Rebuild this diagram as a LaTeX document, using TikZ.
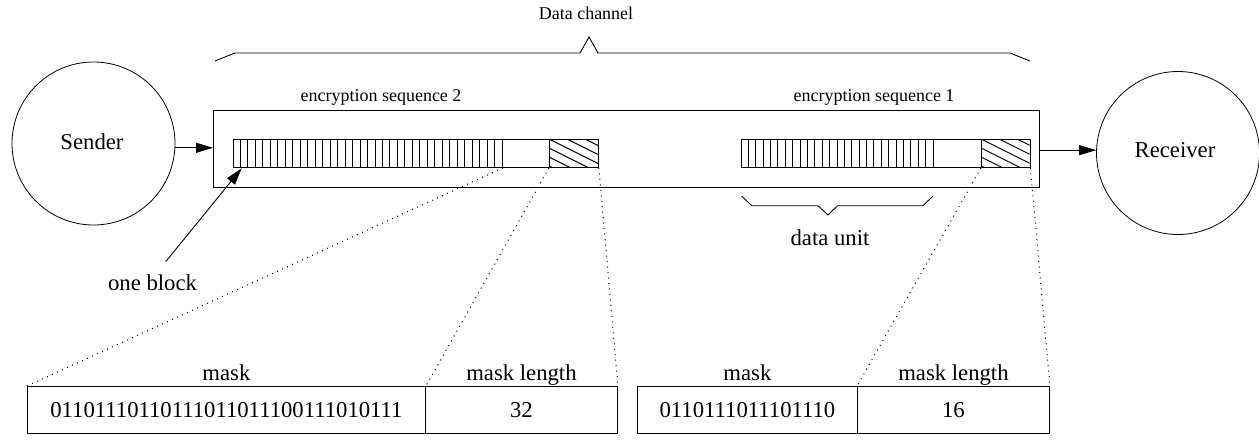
\documentclass[tikz,border=0pt]{standalone}
\usepackage{fontspec}
\setmainfont{Liberation Serif}
\usetikzlibrary{arrows.meta}
\begin{document}
\begin{tikzpicture}[x=1pt,y=-1pt,line width=0.9pt,
  big/.style={font=\fontsize{22.7}{27}\selectfont,inner sep=0pt},
  mid/.style={font=\fontsize{18}{22}\selectfont,inner sep=0pt},
  box/.style={draw,inner sep=0pt,anchor=north west},
  party/.style={draw,circle,inner sep=0pt,minimum size=163pt,line width=0.8pt},
  dotline/.style={line width=1pt,dash pattern=on 1pt off 4.5pt},
  arr/.style={-{Triangle[length=17pt,width=10pt]}}]
\useasboundingbox (0,0) rectangle (1259,444);

% sender and receiver
\node[party] (sender) at (93.5,143.5) {};
\node[big,anchor=base] (sendertxt) at (92,149) {Sender};
\node[party] (receiver) at (1178,153) {};
\node[big,anchor=base] (receivertxt) at (1175,157) {Receiver};

% the data channel
\node[box,minimum width=826pt,minimum height=77pt] (channel) at (213,110) {};
\draw[arr] (sender.-3) -- (channel.west |- sender.-3);
\draw[arr] (channel.east |- receiver.178) -- (receiver.178);

% brace over the channel
\draw (215,61) -- (235,53) -- (580,53) -- (589,37) -- (598,53) -- (1010,53) -- (1030,61);
\node[mid,anchor=base] (chantxt) at (586,20) {Data channel};

% encryption sequence 2
\node[mid,anchor=base] (seq2txt) at (381,101) {encryption sequence 2};
\node[box,minimum width=269pt,minimum height=28pt] (s2blk) at (233,139) {};
\node[box,minimum width=47pt,minimum height=28pt] (s2gap) at (502,139) {};
\node[box,minimum width=49pt,minimum height=28pt] (s2len) at (549,139) {};
\foreach \i in {1,...,35} \draw (233+\i*7.472,139) -- ++(0,28);
\begin{scope}
  \clip (549,139) rectangle (598,167);
  \foreach \k in {-6,...,4} \draw (549,139+\k*9) -- ++(60,30);
\end{scope}

% encryption sequence 1
\node[mid,anchor=base] (seq1txt) at (874,101) {encryption sequence 1};
\node[box,minimum width=192pt,minimum height=28pt] (s1blk) at (741,139) {};
\node[box,minimum width=48pt,minimum height=28pt] (s1gap) at (933,139) {};
\node[box,minimum width=48.5pt,minimum height=28pt] (s1len) at (981,139) {};
\foreach \i in {1,...,25} \draw (741+\i*7.385,139) -- ++(0,28);
\begin{scope}
  \clip (981,139) rectangle (1029.5,167);
  \foreach \k in {-6,...,4} \draw (981,139+\k*9) -- ++(60,30);
\end{scope}

% data unit brace
\draw (741.7,196) -- (751.7,205.7) -- (818,205.7) -- (828,215) -- (837.5,205.7) -- (923,205.7) -- (933,196);
\node[big,anchor=base] (unittxt) at (830,245) {data unit};

% one block pointer
\coordinate (obtail) at (165.7,261.7);
\coordinate (obhead) at (241.7,168.3);
\draw[arr] (obtail) -- (obhead);
\node[big,anchor=base] (obtxt) at (152.5,290) {one block};

% mask tables
\node[box,minimum width=398pt,minimum height=47pt] (m1) at (27,386) {};
\node[box,minimum width=192pt,minimum height=47pt] (l1) at (425,386) {};
\node[box,minimum width=220pt,minimum height=47pt] (m2) at (637,386) {};
\node[box,minimum width=192pt,minimum height=47pt] (l2) at (857,386) {};
\node[big,anchor=base] (m1head) at (m1.center |- 0,380) {mask};
\node[big,anchor=base] (l1head) at (l1.center |- 0,380) {mask length};
\node[big,anchor=base] (m2head) at (m2.center |- 0,380) {mask};
\node[big,anchor=base] (l2head) at (l2.center |- 0,380) {mask length};
\node[big,anchor=base] (m1val) at (m1.center |- 0,417) {01101110110111011011100111010111};
\node[big,anchor=base] (l1val) at (l1.center |- 0,417) {32};
\node[big,anchor=base] (m2val) at (m2.center |- 0,417) {0110111011101110};
\node[big,anchor=base] (l2val) at (l2.center |- 0,417) {16};

% dotted zoom lines
\draw[dotline] (s2blk.south east) -- (m1.north west);
\draw[dotline] (s2len.south west) -- (m1.north east);
\draw[dotline] (s2len.south east) -- (l1.north east);
\draw[dotline] (s1len.south west) -- (l2.north west);
\draw[dotline] (s1len.south east) -- (l2.north east);
\end{tikzpicture}
\end{document}
